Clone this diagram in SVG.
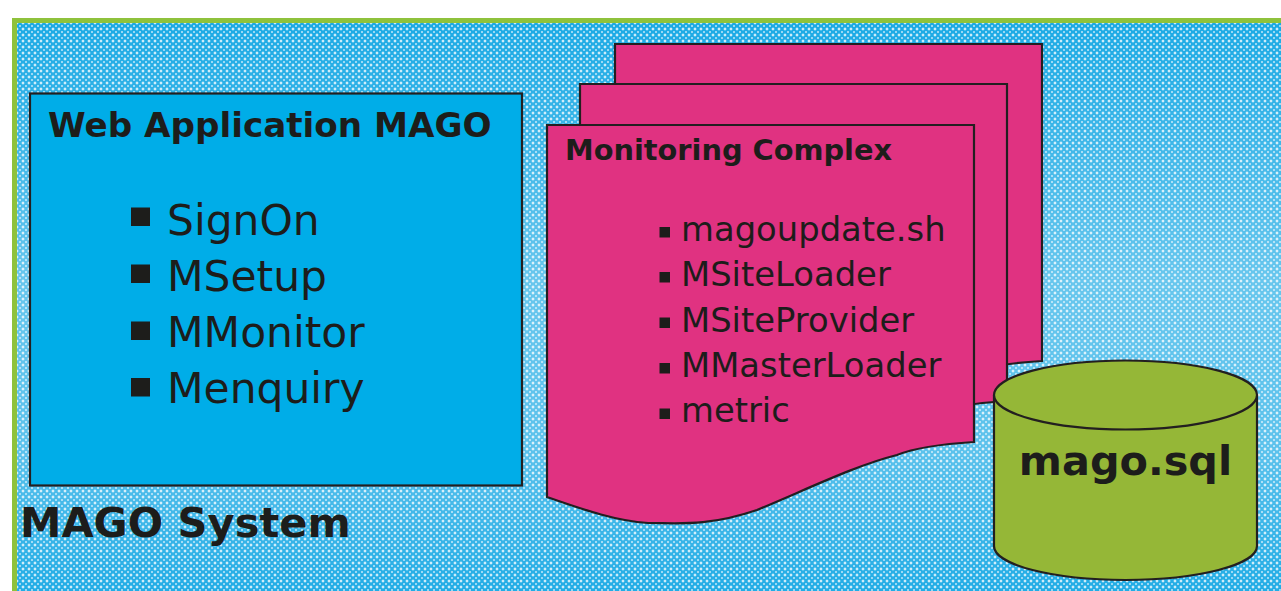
<svg xmlns="http://www.w3.org/2000/svg" width="1281" height="591" viewBox="0 0 1281 591">
  <defs>
    <pattern id="dots" x="17" y="23" width="6" height="6" patternUnits="userSpaceOnUse">
      <rect width="6" height="6" fill="#16a8e4"/>
      <path d="M0 -1.7 L1.7 0 L0 1.7 L-1.7 0Z M6 -1.7 L7.7 0 L6 1.7 L4.3 0Z M0 4.3 L1.7 6 L0 7.7 L-1.7 6Z M6 4.3 L7.7 6 L6 7.7 L4.3 6Z" fill="#ffffff" opacity="0.8"/>
      <rect x="2" y="2.5" width="2" height="1" fill="#bfe6f8"/>
      <rect x="2.5" y="2" width="1" height="2" fill="#bfe6f8"/>
    </pattern>
    <linearGradient id="lighten" x1="0" y1="0" x2="0" y2="1">
      <stop offset="0" stop-color="#ffffff" stop-opacity="0.02"/>
      <stop offset="0.45" stop-color="#ffffff" stop-opacity="0.35"/>
      <stop offset="0.75" stop-color="#ffffff" stop-opacity="0.3"/>
      <stop offset="1" stop-color="#ffffff" stop-opacity="0.05"/>
    </linearGradient>
    <path id="page" d="M0 0 H427 V317 C395 319 370 322 350 330 C310 340 265 362 210 385 C160 402 130 398 101 398 C70 396 40 386 0 372 Z"/>
  </defs>
  <style>
    .outline { stroke: #231f20; stroke-width: 2.2; }
    .pink { fill: #e03281; }
    .txt { font-family: "DejaVu Sans", Verdana, sans-serif; fill: #1d1d1b; }
    .bold { font-weight: bold; }
    .big { font-size: 42.4px; }
    .mid { font-size: 33.8px; }
    .bullet { fill: #1d1d1b; }
  </style>

  <rect width="1281" height="591" fill="#ffffff"/>

  <g id="mago-system">
    <rect x="17" y="23" width="1264" height="568" fill="url(#dots)"/>
    <rect x="17" y="23" width="1264" height="568" fill="url(#lighten)"/>
    <path d="M14.5 591 V20.5 H1281" fill="none" stroke="#8fc23c" stroke-width="5"/>
    <text class="txt bold" x="20" y="537" font-size="41.6">MAGO System</text>
  </g>

  <g id="web-application">
    <rect x="30" y="93.5" width="492" height="392" fill="#00ade8" class="outline"/>
    <text class="txt bold" x="48" y="137" font-size="34.2">Web Application MAGO</text>
    <rect class="bullet" x="131" y="207.5" width="19" height="18.5"/>
    <rect class="bullet" x="131" y="264.5" width="19" height="18.5"/>
    <rect class="bullet" x="131" y="321.5" width="19" height="18.5"/>
    <rect class="bullet" x="131" y="378" width="19" height="18.5"/>
    <text class="txt big" x="167" y="235">SignOn</text>
    <text class="txt big" x="167" y="291">MSetup</text>
    <text class="txt big" x="167" y="347">MMonitor</text>
    <text class="txt big" x="167" y="403">Menquiry</text>
  </g>

  <g id="monitoring-complex">
    <use href="#page" x="615" y="44" class="pink outline"/>
    <use href="#page" x="580" y="84" class="pink outline"/>
    <use href="#page" x="547" y="125" class="pink outline"/>
    <text class="txt bold" x="565" y="160" font-size="28.8">Monitoring Complex</text>
    <rect class="bullet" x="659.5" y="227" width="10.5" height="10.5"/>
    <rect class="bullet" x="659.5" y="272" width="10.5" height="10.5"/>
    <rect class="bullet" x="659.5" y="317.5" width="10.5" height="10.5"/>
    <rect class="bullet" x="659.5" y="363" width="10.5" height="10.5"/>
    <rect class="bullet" x="659.5" y="408.5" width="10.5" height="10.5"/>
    <text class="txt mid" x="681" y="241">magoupdate.sh</text>
    <text class="txt mid" x="681" y="286">MSiteLoader</text>
    <text class="txt mid" x="681" y="331.5">MSiteProvider</text>
    <text class="txt mid" x="681" y="377">MMasterLoader</text>
    <text class="txt mid" x="681" y="422">metric</text>
  </g>

  <g id="mago-sql">
    <path d="M994 395 V546 A131.5 34 0 0 0 1257 546 V395" fill="#95b737" class="outline"/>
    <ellipse cx="1125.5" cy="395" rx="131.5" ry="34.5" fill="#95b737" class="outline"/>
    <text class="txt bold" x="1125.5" y="475" font-size="41.4" text-anchor="middle">mago.sql</text>
  </g>

  <g id="connectors"/>
</svg>
